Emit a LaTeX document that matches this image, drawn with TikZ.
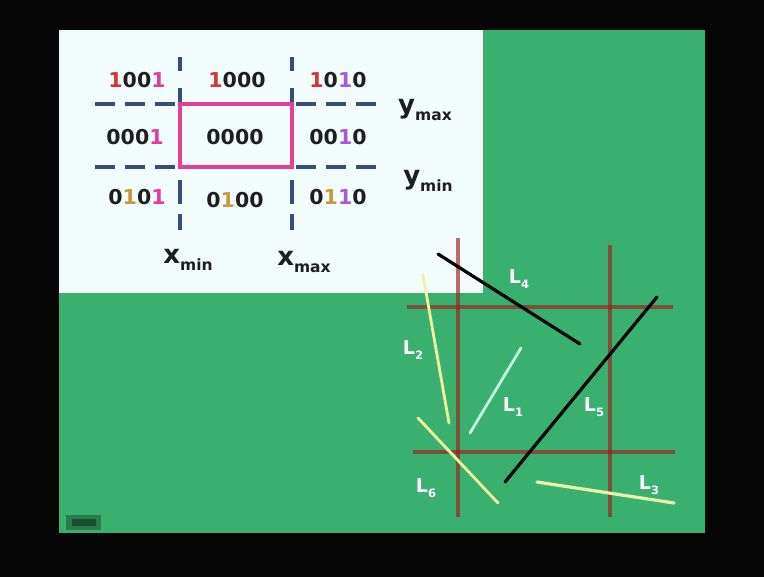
\documentclass[tikz,border=0pt]{standalone}
\usepackage{fontspec}
\setmainfont{DejaVu Sans}
\usepackage{xcolor}
\usepackage{tikz}
\usetikzlibrary{positioning}
\definecolor{screen}{HTML}{060606}
\definecolor{slidegreen}{HTML}{3AB06E}
\definecolor{slidewhite}{HTML}{F2FCFD}
\definecolor{codetext}{HTML}{1E1E1E}
\definecolor{gridblue}{HTML}{34507A}
\definecolor{winpink}{HTML}{E0409C}
\definecolor{bitred}{HTML}{D83434}
\definecolor{bitpink}{HTML}{E23C9E}
\definecolor{bitviolet}{HTML}{A55AD8}
\definecolor{bittan}{HTML}{C89A3C}
\definecolor{clipred}{HTML}{A01C1C}
\definecolor{lineyellow}{HTML}{F0F59C}
\definecolor{linemint}{HTML}{C4F5E2}
\newcommand{\bitR}[1]{\textcolor{bitred}{#1}}
\newcommand{\bitP}[1]{\textcolor{bitpink}{#1}}
\newcommand{\bitV}[1]{\textcolor{bitviolet}{#1}}
\newcommand{\bitT}[1]{\textcolor{bittan}{#1}}

\begin{document}
\begin{tikzpicture}[x=1pt, y=-1pt,
  code/.style={font=\fontsize{20.5}{24}\selectfont\bfseries, text=codetext, inner sep=0pt},
  bound/.style={font=\fontsize{26}{28}\selectfont\bfseries, text=codetext, inner sep=0pt},
  lbl/.style={font=\fontsize{19}{20}\selectfont\bfseries, text=white, inner sep=0pt},
  gridline/.style={gridblue, line width=3.4pt, dash pattern=on 20pt off 10pt},
  winline/.style={clipred, opacity=0.65, line width=3.2pt},
  seg/.style={line width=3.2pt, line cap=round}]

  % Bildschirm und Folie
  \fill[screen] (0,0) rectangle (764,577);
  \fill[slidegreen] (59,30) rectangle (705,533);
  \fill[slidewhite] (59,30) rectangle (483,293);
  \fill[slidegreen!70!black] (66,515) rectangle (101,530);
  \fill[slidegreen!45!black] (72,519) rectangle (96,526);

  % Bereichsgrenzen (gestrichelt)
  \draw[gridline] (95,104) -- (178,104);
  \draw[gridline] (296,104) -- (378,104);
  \draw[gridline] (95,167) -- (178,167);
  \draw[gridline] (296,167) -- (378,167);
  \draw[gridline, dash pattern=on 14pt off 17pt] (180,57) -- (180,102);
  \draw[gridline, dash pattern=on 14pt off 17pt] (292,57) -- (292,102);
  \draw[gridline, dash pattern=on 24pt off 10pt] (180,180) -- (180,230);
  \draw[gridline, dash pattern=on 24pt off 10pt] (292,180) -- (292,230);

  % Fenster
  \draw[winpink, line width=3.6pt] (180,104) rectangle (292,167);

  % Bereichscodes
  \node[code] (c1001) at (137,80) {\bitR{1}00\bitP{1}};
  \node[code] (c1000) at (237,80) {\bitR{1}000};
  \node[code] (c1010) at (338,80) {\bitR{1}0\bitV{1}0};
  \node[code] (c0001) at (135,137) {000\bitP{1}};
  \node[code] (c0000) at (235,137) {0000};
  \node[code] (c0010) at (338,137) {00\bitV{1}0};
  \node[code] (c0101) at (137,197) {0\bitT{1}0\bitP{1}};
  \node[code] (c0100) at (235,200) {0\bitT{1}00};
  \node[code] (c0110) at (338,197) {0\bitT{1}\bitV{1}0};

  % Grenzwerte
  \node[bound] (ymax) at (425,110) {y\raisebox{-0.5ex}{\fontsize{15.5}{16}\selectfont max}};
  \node[bound] (ymin) at (428,181) {y\raisebox{-0.5ex}{\fontsize{15.5}{16}\selectfont min}};
  \node[bound] (xmin) at (188,260) {x\raisebox{-0.5ex}{\fontsize{15.5}{16}\selectfont min}};
  \node[bound] (xmax) at (304,262) {x\raisebox{-0.5ex}{\fontsize{15.5}{16}\selectfont max}};

  % Fenster (rechts unten)
  \draw[winline] (458,238) -- (458,517);
  \draw[winline] (610,245) -- (610,517);
  \draw[winline] (407,307) -- (673,307);
  \draw[winline] (413,452) -- (675,452);

  % Strecken
  \coordinate (L1a) at (521,348); \coordinate (L1b) at (470,433);
  \coordinate (L2a) at (423,275); \coordinate (L2b) at (449,423);
  \coordinate (L3a) at (537,482); \coordinate (L3b) at (674,503);
  \coordinate (L4a) at (438,254); \coordinate (L4b) at (580,344);
  \coordinate (L5a) at (657,297); \coordinate (L5b) at (505,482);
  \coordinate (L6a) at (418,418); \coordinate (L6b) at (498,503);
  \draw[seg, linemint, line width=2.8pt] (L1a) -- (L1b);
  \draw[seg, lineyellow, line width=2.8pt] (L2a) -- (L2b);
  \draw[seg, lineyellow!75!linemint, line width=3.2pt] (L3a) -- (L3b);
  \draw[seg, black] (L4a) -- (L4b);
  \draw[seg, black] (L5a) -- (L5b);
  \draw[seg, lineyellow, line width=2.8pt] (L6a) -- (L6b);

  % Beschriftungen
  \node[lbl] (l1) at (513,407) {L\raisebox{-0.5ex}{\fontsize{11.5}{12}\selectfont 1}};
  \node[lbl] (l2) at (413,350) {L\raisebox{-0.5ex}{\fontsize{11.5}{12}\selectfont 2}};
  \node[lbl] (l3) at (649,485) {L\raisebox{-0.5ex}{\fontsize{11.5}{12}\selectfont 3}};
  \node[lbl] (l4) at (519,279) {L\raisebox{-0.5ex}{\fontsize{11.5}{12}\selectfont 4}};
  \node[lbl] (l5) at (594,407) {L\raisebox{-0.5ex}{\fontsize{11.5}{12}\selectfont 5}};
  \node[lbl] (l6) at (426,488) {L\raisebox{-0.5ex}{\fontsize{11.5}{12}\selectfont 6}};
\end{tikzpicture}
\end{document}
